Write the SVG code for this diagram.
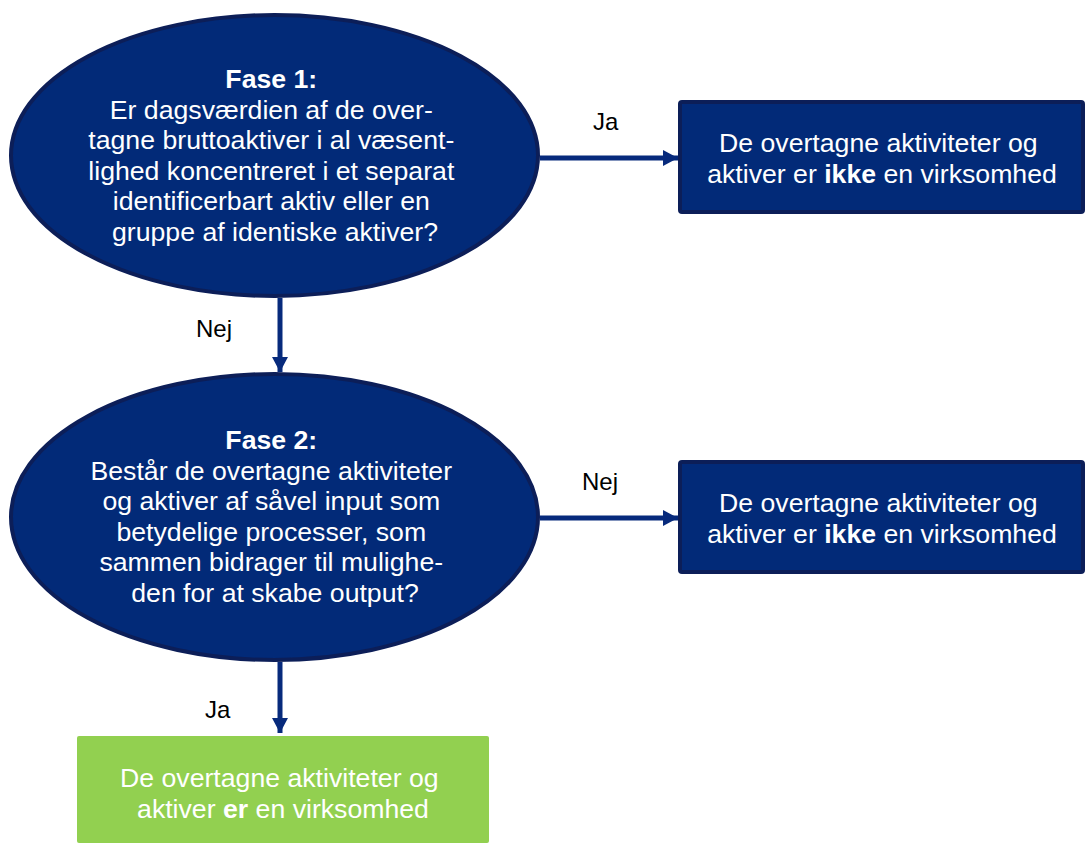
<svg xmlns="http://www.w3.org/2000/svg" width="1086" height="843" viewBox="0 0 1086 843">
  <style>
    .q { fill: #022a78; stroke: #0c1e58; stroke-width: 4; }
    .box { fill: #022a78; stroke: #0c1e58; stroke-width: 4; }
    .green { fill: #92d050; }
    .t { font-family: "Liberation Sans", Arial, sans-serif; font-size: 26.67px; fill: #ffffff; text-anchor: middle; }
    .lbl { font-family: "Liberation Sans", Arial, sans-serif; font-size: 24px; fill: #000000; }
    .b { font-weight: bold; }
    .conn { stroke: #072a7c; stroke-width: 5; fill: none; }
    .head { fill: #072a7c; }
  </style>
  <defs>
    <marker id="arr" viewBox="0 0 15 16" refX="15" refY="8" markerWidth="15" markerHeight="16" markerUnits="userSpaceOnUse" orient="auto">
      <path d="M0,0 L15,8 L0,16 Z" class="head"/>
    </marker>
  </defs>

  <g id="connectors">
    <line class="conn" x1="540" y1="158" x2="678" y2="158" marker-end="url(#arr)"/>
    <line class="conn" x1="280" y1="298" x2="280" y2="372" marker-end="url(#arr)"/>
    <line class="conn" x1="540" y1="518" x2="678" y2="518" marker-end="url(#arr)"/>
    <line class="conn" x1="280" y1="662" x2="280" y2="733" marker-end="url(#arr)"/>
    <text class="lbl" x="593" y="130">Ja</text>
    <text class="lbl" x="196" y="337">Nej</text>
    <text class="lbl" x="582" y="490">Nej</text>
    <text class="lbl" x="205" y="718">Ja</text>
  </g>

  <g id="fase1">
    <ellipse class="q" cx="274.5" cy="155.5" rx="263.5" ry="140.5"/>
    <text class="t" x="275">
      <tspan x="275" y="88" class="b">Fase 1:</tspan>
      <tspan x="275" y="118.6">Er dagsværdien af de over-</tspan>
      <tspan x="275" y="149.2">tagne bruttoaktiver i al væsent-</tspan>
      <tspan x="275" y="179.8">lighed koncentreret i et separat</tspan>
      <tspan x="275" y="210.4">identificerbart aktiv eller en</tspan>
      <tspan x="275" y="241">gruppe af identiske aktiver?</tspan>
    </text>
  </g>

  <g id="result1">
    <rect class="box" x="680" y="102" width="403" height="110" rx="2"/>
    <text class="t" x="882">
      <tspan x="882" y="152">De overtagne aktiviteter og</tspan>
      <tspan x="882" y="182.6">aktiver er <tspan class="b">ikke</tspan> en virksomhed</tspan>
    </text>
  </g>

  <g id="fase2">
    <ellipse class="q" cx="274.5" cy="517" rx="263.5" ry="143"/>
    <text class="t" x="275">
      <tspan x="275" y="449" class="b">Fase 2:</tspan>
      <tspan x="275" y="479.6">Består de overtagne aktiviteter</tspan>
      <tspan x="275" y="510.2">og aktiver af såvel input som</tspan>
      <tspan x="275" y="540.8">betydelige processer, som</tspan>
      <tspan x="275" y="571.4">sammen bidrager til mulighe-</tspan>
      <tspan x="275" y="602">den for at skabe output?</tspan>
    </text>
  </g>

  <g id="result2">
    <rect class="box" x="680" y="462" width="403" height="110" rx="2"/>
    <text class="t" x="882">
      <tspan x="882" y="512">De overtagne aktiviteter og</tspan>
      <tspan x="882" y="542.6">aktiver er <tspan class="b">ikke</tspan> en virksomhed</tspan>
    </text>
  </g>

  <g id="result3">
    <rect class="green" x="77" y="736" width="412" height="107" rx="2"/>
    <text class="t" x="283">
      <tspan x="283" y="787">De overtagne aktiviteter og</tspan>
      <tspan x="283" y="818">aktiver <tspan class="b">er</tspan> en virksomhed</tspan>
    </text>
  </g>
</svg>
